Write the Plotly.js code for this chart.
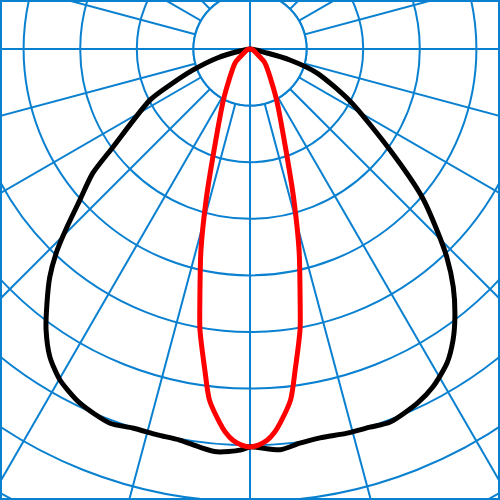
<!DOCTYPE html>
<html>
<head>
<meta charset="utf-8">
<script src="https://cdn.plot.ly/plotly-3.0.1.min.js"></script>
<style>
  html, body { margin: 0; padding: 0; width: 500px; height: 500px; overflow: hidden; background: #fff; }
  #plot { position: absolute; left: -270px; top: -471px; width: 1040px; height: 1040px; }
  #frame { position: absolute; left: 0; top: 0; width: 500px; height: 500px; box-sizing: border-box; border: 2px solid #0a80d0; pointer-events: none; }
</style>
</head>
<body>
<div id="plot"></div>
<div id="frame"></div>
<script>
// Angles in degrees measured from the downward vertical (nadir), positive to the right.
// Values in grid units (one unit = one concentric circle).
const blackAngles = [-82, -78.7, -74.7, -69.8, -65.8, -63.0, -54.4, -51.7, -48.4, -45.8, -43.8, -41.3, -38.6, -36.0, -33.0, -29.9, -25.7, -20.5, -17.2, -13.5, -10.2, -7.2, -4.7, -1.4, 0, 4.3, 7.2, 10.2, 14.2, 17.6, 20.6, 25.3, 28.4, 32.1, 34.9, 37.4, 40.5, 43.4, 45.9, 49.3, 54.2, 62.5, 70.3, 74.6, 76.8, 82];
const blackValues = [0, 0.18, 0.60, 1.07, 1.55, 1.98, 2.98, 3.54, 4.02, 4.51, 4.92, 5.36, 5.75, 6.13, 6.49, 6.74, 6.94, 7.06, 7.01, 7.01, 7.02, 7.09, 7.14, 7.09, 7.03, 7.10, 7.02, 6.98, 7.00, 7.01, 7.04, 6.92, 6.79, 6.55, 6.27, 5.96, 5.53, 5.06, 4.60, 4.01, 3.05, 1.99, 1.26, 0.73, 0.31, 0];

const redAngles = [-90, -71.6, -56.3, -47.0, -34.1, -27.5, -19.6, -16.2, -13.7, -11.3, -10.1, -8.0, -6.6, -4.6, -3.7, -2.5, -1.2, 0, 1.2, 2.5, 3.7, 4.6, 6.6, 8.0, 10.1, 11.3, 13.7, 16.2, 19.6, 27.5, 34.1, 47.0, 56.3, 71.6, 90];
const redValues = [0, 0.06, 0.13, 0.36, 0.66, 1.02, 1.89, 2.78, 3.66, 4.52, 5.04, 5.73, 6.24, 6.63, 6.78, 6.92, 7.00, 7.03, 7.00, 6.92, 6.78, 6.63, 6.24, 5.73, 5.04, 4.52, 3.66, 2.78, 1.89, 1.02, 0.66, 0.36, 0.13, 0.06, 0];

const gridBlue = '#0a80d0';
const unitPx = 56.6;
const halfSize = 520;
const radialMax = halfSize / unitPx;

// inner disc (grid decoration): white cover with its outline
const discTheta = [];
const discR = [];
for (let a = 0; a <= 360; a += 5) { discTheta.push(a); discR.push(1); }

const traces = [
  { type: 'scatterpolar', mode: 'lines', r: discR, theta: discTheta, fill: 'toself', fillcolor: '#ffffff',
    line: { color: gridBlue, width: 2 }, hoverinfo: 'skip', showlegend: false },
  { type: 'scatterpolar', mode: 'lines', r: [1, 0, 1], theta: [0, 0, 180],
    line: { color: gridBlue, width: 2 }, hoverinfo: 'skip', showlegend: false },
  { type: 'scatterpolar', mode: 'lines', r: [1, 0, 1], theta: [90, 90, 270],
    line: { color: gridBlue, width: 2 }, hoverinfo: 'skip', showlegend: false },
  { type: 'scatterpolar', mode: 'lines', r: blackValues, theta: blackAngles,
    line: { color: '#000000', width: 5, shape: 'spline', smoothing: 0.7 }, showlegend: false },
  { type: 'scatterpolar', mode: 'lines', r: redValues, theta: redAngles,
    line: { color: '#ff0000', width: 5, shape: 'spline', smoothing: 0.7 }, showlegend: false }
];

const layout = {
  width: 1040, height: 1040,
  margin: { l: 0, r: 0, t: 0, b: 0, pad: 0 },
  paper_bgcolor: '#ffffff',
  showlegend: false,
  polar: {
    domain: { x: [0, 1], y: [0, 1] },
    bgcolor: '#ffffff',
    radialaxis: {
      range: [0, radialMax], dtick: 1, tick0: 0,
      showticklabels: false, ticks: '', showline: false,
      gridcolor: gridBlue, gridwidth: 2
    },
    angularaxis: {
      rotation: -90, direction: 'counterclockwise',
      dtick: 15, tick0: 0,
      showticklabels: false, ticks: '', showline: false,
      gridcolor: gridBlue, gridwidth: 2
    }
  }
};

Plotly.newPlot('plot', traces, layout, { staticPlot: true, displayModeBar: false });
</script>
</body>
</html>
